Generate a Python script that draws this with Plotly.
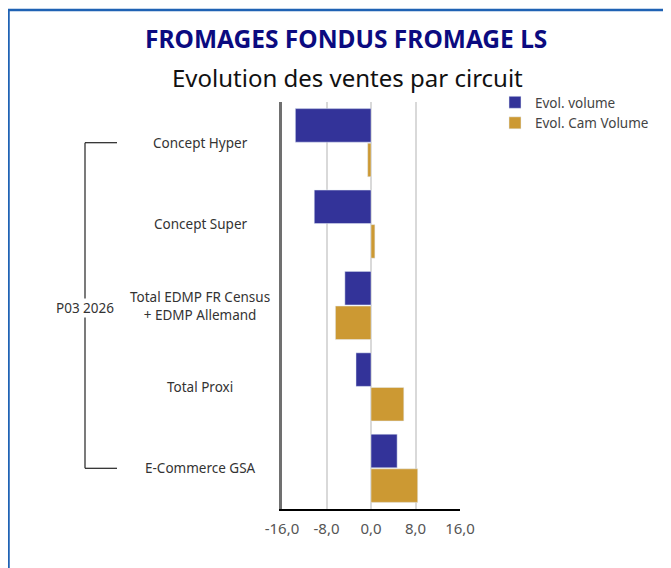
import plotly.graph_objects as go

# Data
categories = ['Concept Hyper', 'Concept Super', 'Total EDMP FR Census<br>+ EDMP Allemand',
              'Total Proxi', 'E-Commerce GSA']
period = 'P03 2026'
evol_volume = [-13.6, -10.2, -4.7, -2.7, 4.7]
evol_cam_volume = [-0.6, 0.7, -6.4, 5.9, 8.4]
x_ticks = [-16, -8, 0, 8, 16]
x_tick_labels = ['-16,0', '-8,0', '0,0', '8,0', '16,0']

FONT = 'Noto Sans'
O = 8  # page body offset
W, H = 671 - O, 568 - O  # fit the window without scrollbars
L, T = 282 - O, 102 - O
R, B = W - (460 - O), H - (509 - O)
pw, ph = W - L - R, H - T - B


def px_x(p):
    # page pixel -> paper x
    return (p - O - L) / pw


def px_y(p):
    # page pixel -> paper y
    return 1 - (p - O - T) / ph


fig = go.Figure()
fig.add_trace(go.Bar(y=categories, x=evol_volume, orientation='h', name='Evol. volume',
                     marker_color='#333399'))
fig.add_trace(go.Bar(y=categories, x=evol_cam_volume, orientation='h', name='Evol. Cam Volume',
                     marker_color='#CC9933'))

fig.update_layout(
    width=W, height=H,
    margin=dict(l=L, r=R, t=T, b=B),
    paper_bgcolor='white', plot_bgcolor='white',
    barmode='group', bargap=0.15, bargroupgap=0.03,
    font=dict(family=FONT, size=13, color='#333'),
    legend=dict(x=px_x(495), y=px_y(87), xanchor='left', yanchor='top',
                font=dict(size=13.5, color='#444'), tracegroupgap=0, itemwidth=30,
                bgcolor='rgba(0,0,0,0)'),
    showlegend=True,
)

fig.update_xaxes(range=[-16, 16], tickvals=x_ticks, ticktext=x_tick_labels, showgrid=True,
                 gridcolor='#d9d9d9', gridwidth=1.5, zeroline=False,
                 showline=True, linecolor='black', linewidth=1.5, ticklabelstandoff=5,
                 tickfont=dict(size=15, color='#555'), ticks='', fixedrange=True)
fig.update_yaxes(autorange='reversed', showticklabels=False, showline=True,
                 linecolor='#707070', linewidth=2.5, ticks='', showgrid=False)

# Category labels (centered)
for c in categories:
    fig.add_annotation(xref='paper', yref='y', x=px_x(200), y=c, text=c, showarrow=False,
                       xanchor='center', align='center', font=dict(size=13.5, color='#333'))

# Outer group bracket
n = len(categories)
bx, bx2 = px_x(85), px_x(117)
line = dict(color='#222', width=1.2)
fig.add_shape(type='line', xref='paper', yref='y', x0=bx, x1=bx, y0=0, y1=n - 1, line=line)
fig.add_shape(type='line', xref='paper', yref='y', x0=bx, x1=bx2, y0=0, y1=0, line=line)
fig.add_shape(type='line', xref='paper', yref='y', x0=bx, x1=bx2, y0=n - 1, y1=n - 1, line=line)
fig.add_annotation(xref='paper', yref='paper', x=px_x(85), y=px_y(308), text=period,
                   showarrow=False, xanchor='center', bgcolor='white', borderpad=0,
                   font=dict(size=13.5, color='#333'))

# Titles
fig.add_annotation(xref='paper', yref='paper', x=px_x(346), y=px_y(38),
                   text='<b>FROMAGES FONDUS FROMAGE LS</b>', showarrow=False,
                   xanchor='center', yanchor='middle',
                   font=dict(size=24.5, color='#0b0b80'))
fig.add_annotation(xref='paper', yref='paper', x=px_x(347), y=px_y(78),
                   text='Evolution des ventes par circuit', showarrow=False,
                   xanchor='center', yanchor='middle',
                   font=dict(size=24, color='#111'))

# Frame
fig.add_shape(type='rect', xref='paper', yref='paper', x0=px_x(8.5), x1=px_x(700),
              y0=px_y(600), y1=px_y(10), line=dict(color='#1f62b4', width=2.5),
              layer='below')

fig.write_html('out.html')
